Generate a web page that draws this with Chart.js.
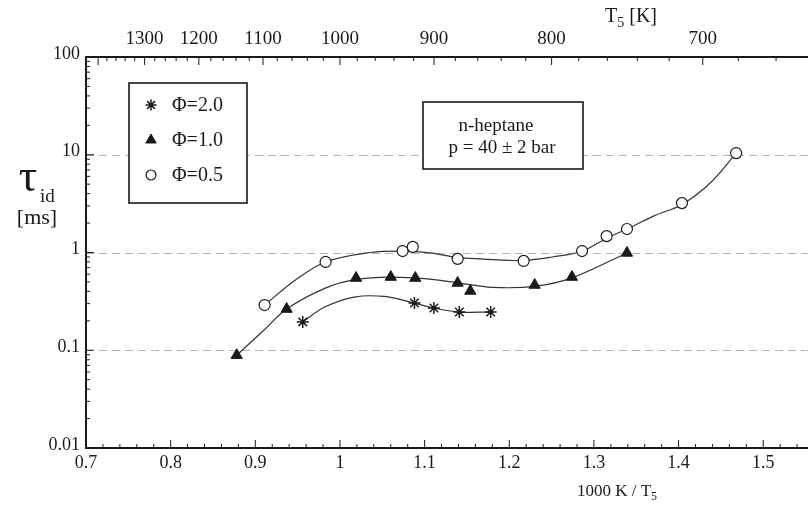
<!DOCTYPE html>
<html>
<head>
<meta charset="utf-8">
<script src="https://cdn.jsdelivr.net/npm/chart.js@4.4.1/dist/chart.umd.min.js"></script>
<style>
  html, body { margin: 0; padding: 0; background: #fff; overflow: hidden; }
  #chart { display: block; }
</style>
</head>
<body>
<canvas id="chart" width="830" height="506"></canvas>
<script>
// measured points, x = 1000 K / T5, y = ignition delay [ms]
const phi20X = [0.956, 1.088, 1.111, 1.141, 1.178];
const phi20Y = [0.195, 0.304, 0.270, 0.246, 0.246];

const phi10X = [0.878, 0.937, 1.019, 1.060, 1.089, 1.139, 1.154, 1.230, 1.274, 1.339];
const phi10Y = [0.089, 0.264, 0.548, 0.561, 0.548, 0.488, 0.404, 0.465, 0.561, 0.99];

const phi05X = [0.911, 0.983, 1.074, 1.086, 1.139, 1.217, 1.286, 1.315, 1.339, 1.404, 1.468];
const phi05Y = [0.29, 0.80, 1.035, 1.14, 0.86, 0.82, 1.035, 1.47, 1.74, 3.2, 10.4];

// hand drawn fit curves
const fit20X = [0.956, 0.982, 1.017, 1.052, 1.088, 1.111, 1.141, 1.178];
const fit20Y = [0.195, 0.277, 0.35, 0.355, 0.304, 0.27, 0.246, 0.246];

const fit10X = [0.878, 0.91, 0.937, 0.982, 1.019, 1.06, 1.10, 1.139, 1.18, 1.23, 1.274, 1.339];
const fit10Y = [0.089, 0.16, 0.264, 0.43, 0.53, 0.56, 0.54, 0.49, 0.44, 0.45, 0.55, 0.99];

const fit05X = [0.911, 0.947, 0.983, 1.036, 1.074, 1.106, 1.139, 1.176, 1.217, 1.251, 1.286, 1.315, 1.339, 1.371, 1.404, 1.438, 1.468];
const fit05Y = [0.29, 0.52, 0.80, 1.0, 1.035, 0.99, 0.89, 0.85, 0.83, 0.90, 1.03, 1.40, 1.74, 2.37, 3.1, 5.2, 10.4];

const xTicks = [0.7, 0.8, 0.9, 1, 1.1, 1.2, 1.3, 1.4, 1.5];
const tempTicks = [1300, 1200, 1100, 1000, 900, 800, 700];
const yTicks = [0.01, 0.1, 1, 10, 100];
const yTickLabels = ["0.01", "0.1", "1", "10", "100"];
const gridValues = [0.1, 1, 10];

const legendLabels = ["\u03A6=2.0", "\u03A6=1.0", "\u03A6=0.5"];
const boxLines = ["n-heptane", "p = 40 \u00B1 2 bar"];

const SERIF = "'Liberation Serif', 'DejaVu Serif', serif";
const INK = "#1a1a1a";

function toPoints(xs, ys) {
  return xs.map((x, i) => ({ x, y: ys[i] }));
}

const markerStyles = [
  { pointStyle: "star", radius: 6, backgroundColor: INK, borderColor: INK, borderWidth: 1.5 },
  { pointStyle: "triangle", radius: 6.5, backgroundColor: INK, borderColor: INK, borderWidth: 1 },
  { pointStyle: "circle", radius: 5.5, backgroundColor: "#fff", borderColor: INK, borderWidth: 1.2 }
];

function markerSet(xs, ys, style) {
  return {
    data: toPoints(xs, ys),
    showLine: false,
    pointStyle: style.pointStyle,
    pointRadius: style.radius,
    pointBackgroundColor: style.backgroundColor,
    pointBorderColor: style.borderColor,
    pointBorderWidth: style.borderWidth
  };
}

function fitSet(xs, ys) {
  return {
    data: toPoints(xs, ys),
    showLine: true,
    borderColor: "#333",
    borderWidth: 1.2,
    pointRadius: 0,
    tension: 0.35
  };
}

function drawSubscripted(ctx, parts, x, y, size) {
  // parts: [text, isSub], centred on x
  const fontFor = p => (p[1] ? Math.round(size * 0.7) : size) + "px " + SERIF;
  const widths = parts.map(p => {
    ctx.font = fontFor(p);
    return ctx.measureText(p[0]).width;
  });
  let cx = x - widths.reduce((a, b) => a + b, 0) / 2;
  parts.forEach((p, i) => {
    ctx.font = fontFor(p);
    ctx.fillText(p[0], cx, p[1] ? y + size * 0.3 : y);
    cx += widths[i];
  });
}

const framePlugin = {
  id: "frame",
  beforeDatasetsDraw(chart) {
    const { ctx, chartArea: a, scales } = chart;
    const x = scales.x, y = scales.y, x2 = scales.x2;
    ctx.save();

    // dashed grid lines
    ctx.strokeStyle = "#b3b3b3";
    ctx.lineWidth = 1;
    ctx.setLineDash([8, 5]);
    gridValues.forEach(v => {
      const py = Math.round(y.getPixelForValue(v)) + 0.5;
      ctx.beginPath();
      ctx.moveTo(a.left, py);
      ctx.lineTo(a.right, py);
      ctx.stroke();
    });
    ctx.setLineDash([]);

    ctx.strokeStyle = INK;
    ctx.lineWidth = 1;
    ctx.beginPath();
    // left axis ticks
    for (let d = 0.01; d < 100; d *= 10) {
      for (let m = 1; m < 10; m++) {
        const py = y.getPixelForValue(d * m);
        ctx.moveTo(a.left, py);
        ctx.lineTo(a.left + (m === 1 ? 8 : 4), py);
      }
    }
    // bottom axis ticks
    for (let i = 0; i <= 43; i++) {
      const px = x.getPixelForValue(0.7 + i * 0.02);
      ctx.moveTo(px, a.bottom);
      ctx.lineTo(px, a.bottom - (i % 5 === 0 ? 8 : 4));
    }
    // top axis ticks (temperature)
    for (let t = 1400; t >= 640; t -= 20) {
      const px = x2.getPixelForValue(1000 / t);
      if (px < a.left + 2) continue;
      ctx.moveTo(px, a.top);
      ctx.lineTo(px, a.top + (t % 100 === 0 ? 8 : 4));
    }
    ctx.stroke();

    // frame
    ctx.lineWidth = 2;
    ctx.beginPath();
    ctx.moveTo(a.right, a.top);
    ctx.lineTo(a.left, a.top);
    ctx.lineTo(a.left, a.bottom);
    ctx.lineTo(a.right, a.bottom);
    ctx.stroke();
    ctx.restore();
  },
  afterDatasetsDraw(chart) {
    const { ctx } = chart;
    ctx.save();
    ctx.textBaseline = "middle";

    // legend box
    ctx.fillStyle = "#fff";
    ctx.fillRect(129, 83, 118, 120);
    ctx.strokeStyle = INK;
    ctx.lineWidth = 1.6;
    ctx.strokeRect(129, 83, 118, 120);
    const rows = [105, 140, 175];
    legendLabels.forEach((label, i) => {
      const s = markerStyles[i];
      ctx.fillStyle = s.backgroundColor;
      ctx.strokeStyle = s.borderColor;
      ctx.lineWidth = s.borderWidth;
      Chart.helpers.drawPoint(ctx, { pointStyle: s.pointStyle, radius: s.radius - 0.5, borderWidth: s.borderWidth, rotation: 0 }, 151, rows[i]);
      ctx.fillStyle = INK;
      ctx.font = "20px " + SERIF;
      ctx.textAlign = "left";
      ctx.fillText(label, 172, rows[i] + 1);
    });

    // condition box
    ctx.fillStyle = "#fff";
    ctx.fillRect(423, 102, 160, 67);
    ctx.strokeStyle = INK;
    ctx.lineWidth = 1.6;
    ctx.strokeRect(423, 102, 160, 67);
    ctx.fillStyle = INK;
    ctx.font = "19px " + SERIF;
    ctx.textAlign = "center";
    ctx.fillText(boxLines[0], 496, 126);
    ctx.fillText(boxLines[1], 502, 148);

    // axis titles
    ctx.textAlign = "left";
    drawSubscripted(ctx, [["T", false], ["5", true], [" [K]", false]], 631, 17, 20);
    drawSubscripted(ctx, [["1000 K / T", false], ["5", true]], 617, 492, 17);

    ctx.font = "46px " + SERIF;
    ctx.textAlign = "center";
    ctx.fillText("\u03C4", 28, 179);
    ctx.font = "19px " + SERIF;
    ctx.textAlign = "left";
    ctx.fillText("id", 40, 197);
    ctx.font = "22px " + SERIF;
    ctx.textAlign = "center";
    ctx.fillText("[ms]", 37, 218);
    ctx.restore();
  }
};

new Chart(document.getElementById("chart").getContext("2d"), {
  type: "scatter",
  data: {
    datasets: [
      markerSet(phi20X, phi20Y, markerStyles[0]),
      markerSet(phi10X, phi10Y, markerStyles[1]),
      markerSet(phi05X, phi05Y, markerStyles[2]),
      fitSet(fit20X, fit20Y),
      fitSet(fit10X, fit10Y),
      fitSet(fit05X, fit05Y)
    ]
  },
  options: {
    responsive: false,
    animation: false,
    layout: { padding: 0 },
    plugins: { legend: { display: false }, tooltip: { enabled: false } },
    scales: {
      x: {
        type: "linear",
        position: "bottom",
        min: 0.7,
        max: 1.57,
        grid: { display: false, drawTicks: false },
        border: { display: false },
        afterBuildTicks: scale => { scale.ticks = xTicks.map(v => ({ value: v })); },
        afterFit: scale => { scale.height = 58; },
        ticks: { color: INK, font: { family: SERIF, size: 18 }, padding: 4, maxRotation: 0, callback: v => String(v) }
      },
      x2: {
        type: "linear",
        position: "top",
        min: 0.7,
        max: 1.57,
        grid: { display: false, drawTicks: false },
        border: { display: false },
        afterBuildTicks: scale => { scale.ticks = tempTicks.map(t => ({ value: 1000 / t })); },
        afterFit: scale => { scale.height = 57; },
        ticks: { color: INK, font: { family: SERIF, size: 19 }, padding: 7, maxRotation: 0, autoSkip: false, callback: (v, i) => String(tempTicks[i]) }
      },
      y: {
        type: "logarithmic",
        min: 0.01,
        max: 100,
        grid: { display: false, drawTicks: false },
        border: { display: false },
        afterBuildTicks: scale => { scale.ticks = yTicks.map(v => ({ value: v })); },
        afterFit: scale => { scale.width = 86; },
        ticks: { color: INK, font: { family: SERIF, size: 18 }, padding: 6, labelOffset: -3, callback: (v, i) => yTickLabels[i] }
      }
    }
  },
  plugins: [framePlugin]
});
</script>
</body>
</html>
